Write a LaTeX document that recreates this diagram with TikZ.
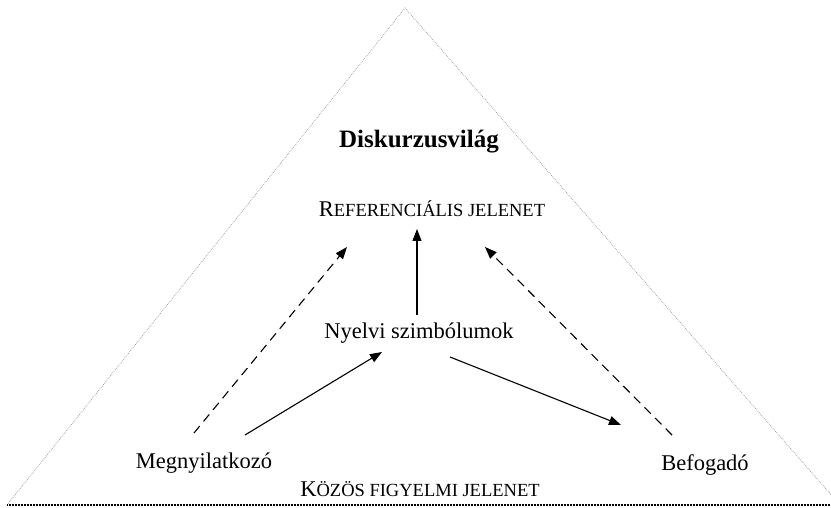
\documentclass[tikz,border=0pt]{standalone}
\usepackage{fontspec}
\setmainfont{Liberation Serif}
\usetikzlibrary{arrows.meta}
\newcommand{\bigsz}{\fontsize{22.5}{27}\selectfont}
\newcommand{\smsz}{\fontsize{18.5}{22}\selectfont}
\begin{document}
\begin{tikzpicture}[x=1pt,y=-1pt,
  lbl/.style={font=\bigsz, inner sep=0pt, anchor=base},
  arr/.style={line width=1.1pt, -{Triangle[length=12pt,width=9pt]}},
  darr/.style={arr, dash pattern=on 9pt off 6pt},
  sideline/.style={gray!80, line width=0.8pt, dash pattern=on 0.7pt off 1.2pt},
  baseline/.style={black, line width=1.6pt, dash pattern=on 1pt off 0.5pt}]
\useasboundingbox (0,0) rectangle (831,508);
\begin{scope}
\clip (0,0) rectangle (831,508);
\coordinate (apex) at (405,8);
\coordinate (bl) at (7,505);
\coordinate (br) at (840,505);
\coordinate (brb) at (831,505);
\draw[sideline] (bl) -- (apex) -- (br);
\draw[baseline] (bl) -- (brb);
\end{scope}
\node[lbl] (disk) at (419,148) {\fontsize{25}{30}\selectfont\bfseries Diskurzusvilág};
\node[lbl] (ref) at (432,217) {R{\smsz EFERENCIÁLIS JELENET}};
\node[lbl] (nyelv) at (419,338) {Nyelvi szimbólumok};
\node[lbl] (megn) at (204,468) {Megnyilatkozó};
\node[lbl] (befog) at (705,470) {Befogadó};
\node[lbl] (kozos) at (420,496) {K{\smsz ÖZÖS FIGYELMI JELENET}};
% arrow end points
\coordinate (vS) at (417,315);
\coordinate (vT) at (417,229);
\coordinate (ldS) at (194,433);
\coordinate (ldT) at (347,247);
\coordinate (lsS) at (245,435);
\coordinate (lsT) at (382,352);
\coordinate (rsS) at (450,357);
\coordinate (rsT) at (621,425);
\coordinate (rdS) at (672,435);
\coordinate (rdT) at (485,247);
\draw[arr] (vS) -- (vT);
\draw[darr] (ldS) -- (ldT);
\draw[arr] (lsS) -- (lsT);
\draw[arr] (rsS) -- (rsT);
\draw[darr] (rdS) -- (rdT);
\end{tikzpicture}
\end{document}
